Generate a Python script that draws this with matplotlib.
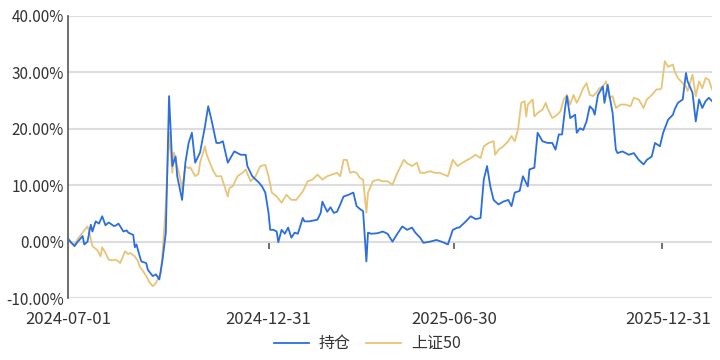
import numpy as np
import matplotlib
matplotlib.use("Agg")
import matplotlib.pyplot as plt
from matplotlib.ticker import FuncFormatter
from matplotlib.transforms import ScaledTranslation

plt.rcParams['font.family'] = ['Noto Sans CJK SC', 'DejaVu Sans']

# trading-day index (0 = 2024-07-01) and cumulative return in %
hold_day = [0, 4, 6, 9, 10, 12, 13, 14, 15, 17, 19, 21, 23, 25, 28, 29, 31, 34, 36, 37,
            40, 41, 42, 44, 45, 48, 49, 52, 54, 56, 58, 60, 62, 64, 66, 67, 70, 72, 74, 76,
            78, 81, 84, 86, 88, 91, 93, 95, 98, 99, 102, 106, 109, 110, 113, 117, 119, 121, 123, 124,
            126, 128, 129, 131, 133, 135, 137, 139, 141, 144, 145, 148, 153, 155, 156, 159, 161, 163, 165, 167,
            169, 172, 175, 177, 179, 181, 183, 184, 186, 190, 193, 196, 199, 202, 205, 208, 211, 213, 216, 218,
            222, 226, 230, 233, 236, 239, 240, 244, 247, 250, 253, 255, 257, 259, 261, 264, 267, 270, 272, 274,
            277, 279, 282, 283, 286, 288, 291, 294, 297, 299, 301, 303, 305, 306, 308, 311, 312, 314, 316, 318,
            320, 322, 323, 325, 328, 329, 331, 332, 334, 336, 337, 340, 344, 347, 350, 353, 355, 358, 360, 363,
            365, 368, 371, 372, 374, 377, 379, 380, 383, 385, 387, 389, 391, 393, 395]
hold_ret = [0.5, -0.8, 0.0, 1.0, -0.5, 0.0, 1.6, 3.0, 1.8, 3.6, 3.2, 4.5, 2.9, 3.4, 2.8, 2.8, 3.2, 1.8, 2.0, 1.6,
            1.2, -1.0, -0.5, -2.6, -3.5, -3.8, -5.0, -6.1, -5.8, -6.7, -3.2, 1.6, 25.8, 13.4, 15.1, 11.6, 7.4, 14.0, 17.5, 19.3,
            14.0, 15.8, 20.4, 24.0, 21.6, 17.5, 17.5, 17.8, 14.0, 14.5, 16.0, 15.4, 15.4, 13.4, 11.6, 10.5, 9.8, 8.7, 5.1, 2.1,
            2.1, 1.8, -0.1, 2.1, 1.4, 2.5, 0.7, 1.6, 1.4, 4.2, 3.6, 3.6, 3.9, 5.1, 7.1, 5.3, 6.1, 5.1, 5.3, 6.6,
            8.0, 8.3, 8.7, 6.3, 5.8, 5.4, -3.5, 1.6, 1.4, 1.5, 1.8, 1.4, 0.0, 1.4, 2.7, 2.1, 2.5, 1.6, 0.7, -0.2,
            0.0, 0.3, -0.1, -0.5, 2.1, 2.5, 2.5, 3.6, 4.5, 4.0, 4.2, 11.0, 13.4, 9.8, 7.4, 6.6, 7.1, 7.4, 6.3, 8.7,
            9.0, 11.6, 9.8, 12.8, 13.1, 19.3, 17.8, 17.5, 17.5, 16.3, 19.0, 19.0, 24.0, 25.8, 21.9, 22.5, 19.3, 20.1, 19.8, 21.3,
            24.0, 23.4, 22.5, 26.0, 27.5, 24.6, 27.8, 26.0, 22.8, 16.3, 15.7, 16.0, 15.4, 15.7, 14.5, 13.7, 14.5, 15.1, 17.5, 16.9,
            19.3, 21.6, 22.5, 23.4, 24.6, 25.2, 29.9, 28.4, 26.4, 21.3, 25.2, 23.7, 24.9, 25.5, 24.9]

sz50_day = [0, 2, 4, 6, 9, 10, 12, 13, 15, 18, 20, 21, 23, 25, 27, 29, 31, 32, 34, 35,
            37, 38, 40, 41, 43, 44, 46, 48, 50, 52, 54, 55, 57, 58, 60, 62, 64, 65, 67, 69,
            70, 72, 74, 75, 78, 80, 81, 84, 85, 87, 89, 91, 94, 98, 99, 101, 104, 107, 109, 112,
            115, 118, 121, 123, 125, 128, 131, 134, 137, 140, 144, 147, 150, 153, 156, 159, 162, 165, 167, 169,
            171, 173, 175, 177, 179, 181, 183, 184, 187, 190, 193, 196, 199, 202, 206, 208, 211, 214, 216, 219,
            222, 225, 228, 233, 236, 239, 242, 245, 247, 250, 253, 255, 258, 261, 262, 264, 267, 270, 272, 274,
            276, 278, 280, 281, 282, 285, 286, 288, 291, 293, 294, 297, 300, 302, 304, 306, 308, 310, 312, 314,
            316, 318, 320, 322, 324, 326, 328, 330, 332, 334, 336, 339, 342, 345, 347, 350, 353, 355, 358, 361,
            363, 364, 366, 368, 371, 372, 374, 377, 379, 380, 383, 385, 387, 389, 391, 393, 395]
sz50_ret = [0.7, -0.3, -0.5, 0.5, 1.6, 2.0, 2.7, 1.8, -0.8, -1.5, -2.6, -1.0, -2.0, -3.2, -3.3, -3.2, -3.5, -3.8, -2.4, -1.7,
            -2.2, -2.0, -2.4, -2.6, -3.5, -4.4, -5.2, -6.1, -7.2, -7.9, -7.3, -6.7, -5.5, -2.0, 6.3, 19.3, 12.2, 15.8, 13.4, 11.0,
            9.2, 13.4, 13.0, 13.2, 11.6, 12.0, 14.0, 16.9, 15.5, 14.0, 12.6, 11.6, 11.6, 8.0, 9.5, 9.8, 11.6, 12.2, 12.8, 10.7,
            11.6, 13.4, 13.6, 11.6, 8.7, 8.0, 6.9, 8.3, 7.4, 7.4, 8.9, 10.7, 11.0, 11.9, 11.0, 11.6, 11.9, 12.2, 11.6, 14.5,
            14.5, 12.2, 12.4, 12.2, 11.3, 11.0, 5.1, 8.7, 10.7, 11.0, 10.7, 10.7, 10.1, 12.2, 14.5, 13.9, 13.4, 14.0, 12.2, 12.2,
            12.5, 12.2, 12.2, 11.6, 14.5, 13.4, 14.0, 14.5, 14.8, 15.4, 14.8, 16.9, 17.5, 17.8, 15.4, 16.3, 16.9, 17.8, 18.7, 17.8,
            19.9, 24.6, 24.9, 22.2, 24.3, 25.2, 22.2, 22.8, 23.4, 24.6, 23.7, 21.9, 22.5, 23.1, 25.2, 26.0, 24.3, 26.0, 24.6, 25.8,
            27.2, 28.1, 26.0, 25.8, 26.4, 27.2, 27.5, 28.4, 25.5, 25.8, 23.7, 24.3, 24.3, 24.0, 25.5, 25.2, 23.7, 25.2, 26.0, 27.0,
            27.0, 27.2, 32.0, 31.0, 31.4, 30.2, 29.0, 28.1, 27.5, 26.7, 29.6, 25.8, 28.4, 27.2, 29.0, 28.7, 27.0]

tick_days = [0, 123, 237, 364]
tick_labels = ['2024-07-01', '2024-12-31', '2025-06-30', '2025-12-31']

blue = '#2a6ee0'
gold = '#e8c477'
text_c = '#333333'

fig = plt.figure(figsize=(7.2, 3.6), dpi=100)
ax = fig.add_axes([0.0944, 0.172, 0.8946, 0.7836])

ax.plot(hold_day, hold_ret, color=blue, lw=1.3, label='持仓', zorder=3)
ax.plot(sz50_day, sz50_ret, color=gold, lw=1.3, label='上证50', zorder=2)

ax.set_xlim(0, 395)
ax.set_ylim(-10, 40)
ax.set_yticks([-10, 0, 10, 20, 30, 40])
ax.yaxis.set_major_formatter(FuncFormatter(lambda v, p: f'{v:.2f}%'))
ax.grid(axis='y', color='#dddddd', lw=1.5, zorder=0)
ax.axhline(0, color='#555555', lw=1.2, zorder=1)

for s in ['top', 'right', 'bottom']:
    ax.spines[s].set_visible(False)
ax.spines['left'].set_color('#555555')
ax.spines['left'].set_linewidth(1.2)

ax.set_xticks(tick_days)
ax.set_xticklabels(tick_labels)
ax.tick_params(axis='x', length=0, pad=9, labelsize=12, colors=text_c)
ax.tick_params(axis='y', length=0, pad=3, labelsize=11, colors=text_c)
# last date label is pushed right so it ends at the plot edge
last = ax.get_xticklabels()[-1]
last.set_transform(last.get_transform() + ScaledTranslation(0.07, 0, fig.dpi_scale_trans))

# small tick marks on the zero line
sec = ax.secondary_xaxis(0.2)
sec.set_xticks(tick_days[1:])
sec.tick_params(axis='x', length=5, width=1.2, color='#555555', labelbottom=False)
sec.spines['bottom'].set_visible(False)

fig.legend(loc='center', bbox_to_anchor=(0.51, 0.045), ncol=2, frameon=False,
           fontsize=11.5, handlelength=2.2, handletextpad=0.6, columnspacing=1.0,
           labelcolor=text_c)

fig.savefig('out.png', dpi=100)
